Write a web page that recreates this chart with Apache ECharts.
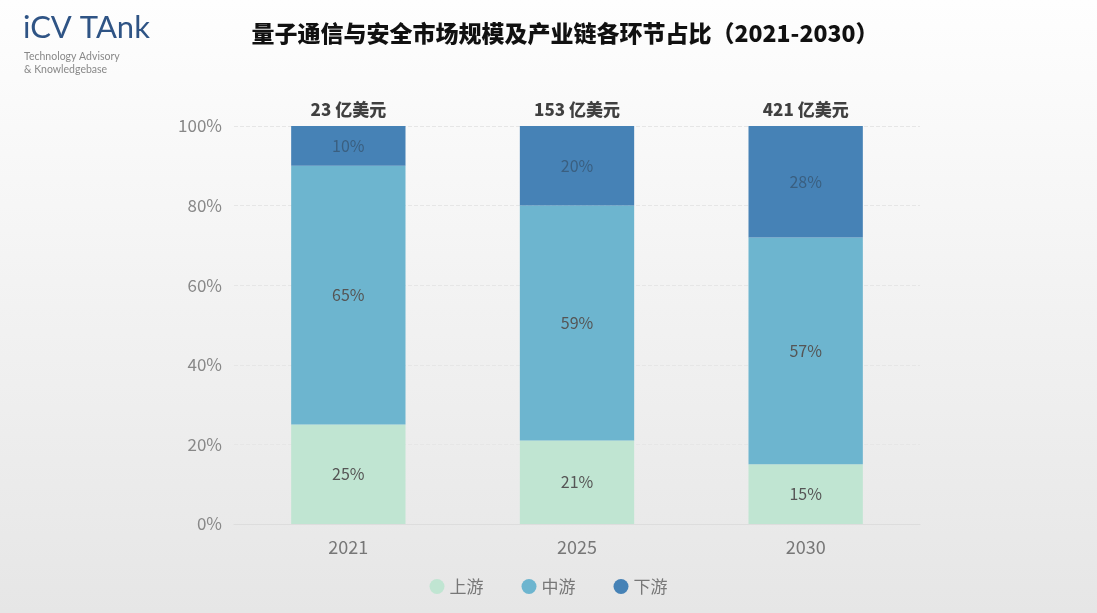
<!DOCTYPE html>
<html><head><meta charset="utf-8">
<script src="https://cdn.jsdelivr.net/npm/echarts@6/dist/echarts.min.js"></script>
<style>html,body{margin:0;padding:0;}#c{width:1097px;height:613px;}</style>
</head><body><div id="c"></div>
<script>
const categories = ['2021', '2025', '2030'];
const upstream = [25, 21, 15];
const midstream = [65, 59, 57];
const downstream = [10, 20, 28];
const totals = [23, 153, 421];
const seriesNames = ['上游', '中游', '下游'];
const yTicks = [0, 20, 40, 60, 80, 100];

const chart = echarts.init(document.getElementById('c'));
const font = '"Noto Sans CJK SC", "Noto Sans", sans-serif';
const inLabel = {show: true, position: 'inside', formatter: '{c}%', color: '#555', fontSize: 16, fontFamily: font};
chart.setOption({
  backgroundColor: new echarts.graphic.LinearGradient(0, 0, 0, 1, [
    {offset: 0, color: '#fefefe'}, {offset: 1, color: '#e6e6e6'}]),
  title: {text: '量子通信与安全市场规模及产业链各环节占比（2021-2030）', left: 560, textAlign: 'center', top: 17,
    textStyle: {fontSize: 23, fontWeight: 900, color: '#111', fontFamily: font}},
  graphic: [
    {type: 'text', left: 23, top: 12, style: {text: 'iCV TAnk', fontSize: 31, fill: '#2f5485', fontFamily: 'Lato, sans-serif'}},
    {type: 'text', left: 24, top: 50, style: {text: 'Technology Advisory\n& Knowledgebase', fontSize: 10.5, lineHeight: 13, fill: '#888', fontFamily: 'Lato, sans-serif'}}
  ],
  legend: {data: seriesNames, bottom: 13, left: 'center', icon: 'circle', itemWidth: 15, itemHeight: 15, itemGap: 38,
    textStyle: {color: '#777', fontSize: 17, fontFamily: font}},
  grid: {left: 234, right: 177, top: 126, bottom: 89},
  xAxis: {type: 'category', data: categories,
    axisLine: {lineStyle: {color: '#ddd'}}, axisTick: {show: false},
    axisLabel: {color: '#777', fontSize: 18, margin: 14, fontFamily: font}},
  yAxis: {type: 'value', min: 0, max: 100, interval: 20,
    axisLabel: {formatter: v => yTicks.includes(v) ? v + '%' : '', color: '#888', fontSize: 17, margin: 12, fontFamily: font},
    splitLine: {lineStyle: {color: '#e6e6e6', type: 'dashed'}}},
  series: [
    {name: '上游', type: 'bar', stack: 's', data: upstream, barWidth: '50%', itemStyle: {color: '#c0e5d2'}, label: inLabel},
    {name: '中游', type: 'bar', stack: 's', data: midstream, itemStyle: {color: '#6db5cf'}, label: inLabel},
    {name: '下游', type: 'bar', stack: 's', data: downstream, itemStyle: {color: '#4682b6'}, label: Object.assign({}, inLabel, {color: '#3a5f80'})},
    {name: 'total', type: 'scatter', data: totals.map(() => 100), symbolSize: 0, silent: true,
      label: {show: true, position: 'top', distance: 8, formatter: p => totals[p.dataIndex] + ' 亿美元', color: '#111', fontSize: 17, fontWeight: 900, fontFamily: font}}
  ]
});
</script></body></html>
